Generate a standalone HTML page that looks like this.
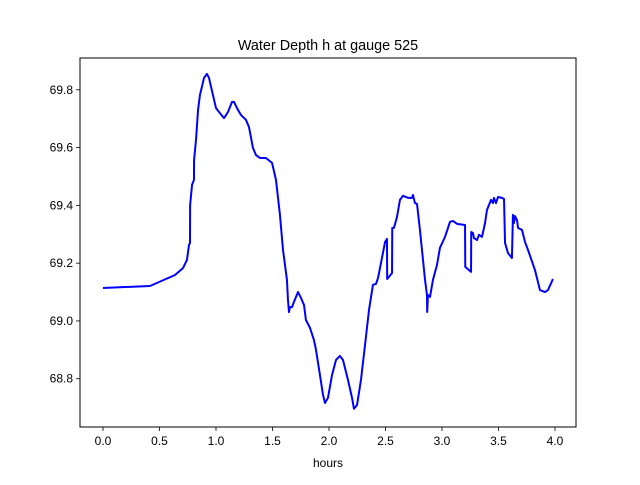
<!DOCTYPE html>
<html><head><meta charset="utf-8"><style>
body{margin:0;background:#fff;}
svg text{font-family:"Liberation Sans","DejaVu Sans",sans-serif;}
</style></head><body>
<svg id="chart" width="640" height="480" xmlns="http://www.w3.org/2000/svg"></svg>
<script>
const times=[0,0.416,0.637,0.708,0.743,0.761,0.770,0.771,0.788,0.805,0.806,0.823,0.841,0.858,0.894,0.920,0.938,0.973,1.000,1.027,1.071,1.106,1.142,1.159,1.195,1.221,1.265,1.292,1.327,1.354,1.389,1.442,1.496,1.531,1.566,1.593,1.628,1.637,1.646,1.655,1.673,1.690,1.726,1.752,1.779,1.796,1.832,1.867,1.885,1.920,1.947,1.965,1.991,2.027,2.062,2.097,2.124,2.168,2.204,2.221,2.248,2.283,2.319,2.354,2.389,2.416,2.434,2.469,2.496,2.513,2.515,2.558,2.560,2.575,2.602,2.628,2.655,2.699,2.735,2.743,2.761,2.779,2.805,2.832,2.850,2.867,2.869,2.876,2.894,2.920,2.956,2.982,3.027,3.071,3.097,3.133,3.204,3.206,3.239,3.257,3.259,3.274,3.283,3.310,3.327,3.354,3.381,3.398,3.434,3.451,3.460,3.478,3.496,3.531,3.549,3.558,3.584,3.619,3.628,3.637,3.646,3.664,3.673,3.708,3.735,3.761,3.823,3.867,3.912,3.938,3.982];
const depths=[69.114,69.121,69.159,69.183,69.211,69.263,69.270,69.401,69.471,69.488,69.557,69.626,69.730,69.782,69.841,69.855,69.841,69.782,69.737,69.723,69.702,69.723,69.758,69.758,69.730,69.713,69.696,69.671,69.599,69.574,69.564,69.564,69.547,69.488,69.367,69.246,69.142,69.073,69.031,69.048,69.048,69.066,69.100,69.080,69.055,69.003,68.976,68.934,68.900,68.813,68.744,68.716,68.734,68.813,68.865,68.879,68.865,68.796,68.734,68.696,68.709,68.796,68.917,69.038,69.125,69.128,69.149,69.218,69.273,69.284,69.145,69.166,69.322,69.322,69.360,69.419,69.433,69.426,69.426,69.436,69.408,69.405,69.315,69.211,69.142,69.090,69.031,69.090,69.083,69.142,69.194,69.253,69.291,69.343,69.346,69.336,69.332,69.187,69.176,69.170,69.308,69.304,69.287,69.280,69.298,69.291,69.339,69.384,69.419,69.408,69.426,69.408,69.429,69.426,69.422,69.270,69.235,69.218,69.367,69.339,69.363,69.349,69.322,69.315,69.273,69.246,69.176,69.107,69.100,69.107,69.145];
const xTicks=[0,0.5,1,1.5,2,2.5,3,3.5,4];
const xTickLabels=["0.0","0.5","1.0","1.5","2.0","2.5","3.0","3.5","4.0"];
const yTicks=[68.8,69.0,69.2,69.4,69.6,69.8];
const yTickLabels=["68.8","69.0","69.2","69.4","69.6","69.8"];

const L=80,R=576,T=58,B=427;
const xmin=-0.2035,xmax=4.186,ymin=68.633,ymax=69.910;
const sx=v=>L+(v-xmin)/(xmax-xmin)*(R-L);
const sy=v=>B-(v-ymin)/(ymax-ymin)*(B-T);
const svg=document.getElementById('chart');
const NS='http://www.w3.org/2000/svg';
function mk(tag,attrs){const e=document.createElementNS(NS,tag);for(const k in attrs)e.setAttribute(k,attrs[k]);svg.appendChild(e);return e;}

let d=times.map((t,i)=>(i?'L':'M')+sx(t).toFixed(2)+','+sy(depths[i]).toFixed(2)).join('');
const line=mk('path',{d:d,fill:'none',stroke:'#0000ff','stroke-width':2,'stroke-linejoin':'round'});



const frame=mk('rect',{x:L,y:T,width:R-L,height:B-T,fill:'none',stroke:'#000','stroke-width':1});



xTicks.forEach((v,i)=>{
  const x=sx(v);
  const tk=mk('line',{x1:x,x2:x,y1:B,y2:B+4,stroke:'#000','stroke-width':0.8});
  
  
  const tx=mk('text',{x:x,y:B+18,'font-size':12,'text-anchor':'middle'});
  tx.textContent=xTickLabels[i];
  
  
});
yTicks.forEach((v,i)=>{
  const y=sy(v);
  const tk=mk('line',{x1:L-4,x2:L,y1:y,y2:y,stroke:'#000','stroke-width':0.8});
  
  
  const tx=mk('text',{x:L-7,y:y+4,'font-size':12,'text-anchor':'end'});
  tx.textContent=yTickLabels[i];
  
  
});
const xl=mk('text',{x:(L+R)/2,y:467,'font-size':12,'text-anchor':'middle'});
xl.textContent='hours';


const ti=mk('text',{x:(L+R)/2,y:50,'font-size':14.4,'text-anchor':'middle'});
ti.textContent='Water Depth h at gauge 525';


</script>
</body></html>
